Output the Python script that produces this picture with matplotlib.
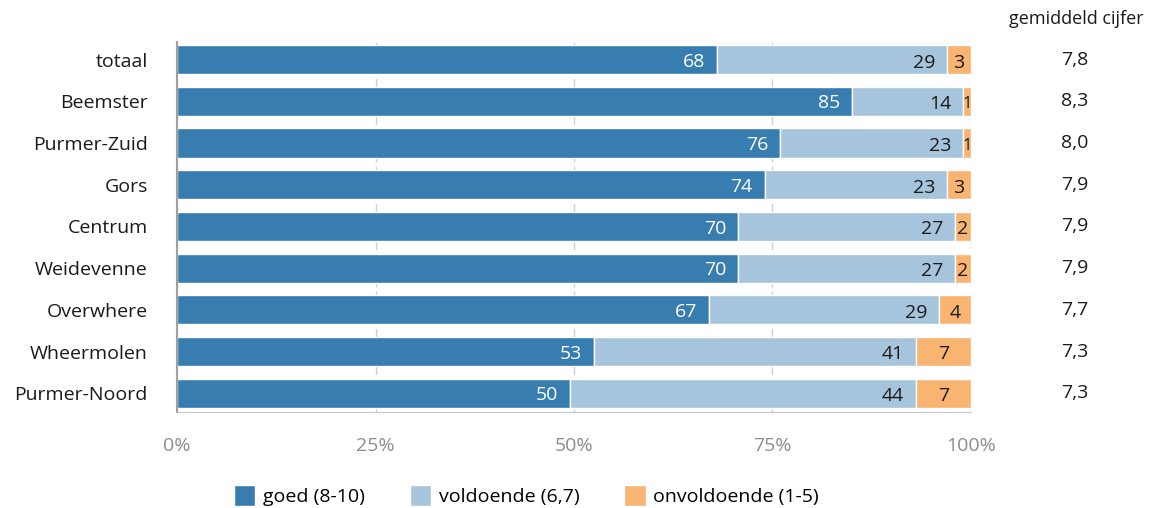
import matplotlib
matplotlib.use("Agg")
import matplotlib.pyplot as plt
import numpy as np

plt.rcParams['font.family'] = ['Open Sans', 'DejaVu Sans']

# data
wijken = ['totaal', 'Beemster', 'Purmer-Zuid', 'Gors', 'Centrum', 'Weidevenne',
          'Overwhere', 'Wheermolen', 'Purmer-Noord']
goed = [68, 85, 76, 74, 70, 70, 67, 53, 50]
voldoende = [29, 14, 23, 23, 27, 27, 29, 41, 44]
onvoldoende = [3, 1, 1, 3, 2, 2, 4, 7, 7]
cijfer = ['7,8', '8,3', '8,0', '7,9', '7,9', '7,9', '7,7', '7,3', '7,3']
series_names = ['goed (8-10)', 'voldoende (6,7)', 'onvoldoende (1-5)']
xticklabels = ['0%', '25%', '50%', '75%', '100%']

kleuren = ['#377db0', '#a6c4dc', '#f8b470']

g = np.array(goed, dtype=float)
v = np.array(voldoende, dtype=float)
o = np.array(onvoldoende, dtype=float)
tot = g + v + o
g, v, o = g / tot, v / tot, o / tot
y = np.arange(len(wijken))

fig = plt.figure(figsize=(11.7, 5.08), dpi=100)
ax = fig.add_axes([0.1513, 0.189, 0.6786, 0.728])

b1 = ax.barh(y, g, height=0.7, color=kleuren[0], edgecolor='white', linewidth=1, label=series_names[0])
b2 = ax.barh(y, v, left=g, height=0.7, color=kleuren[1], edgecolor='white', linewidth=1, label=series_names[1])
b3 = ax.barh(y, o, left=g + v, height=0.7, color=kleuren[2], edgecolor='white', linewidth=1, label=series_names[2])

fs = 14
for i in range(len(wijken)):
    ax.text(g[i] - 0.015, y[i] + 0.05, str(goed[i]), ha='right', va='center',
            color='white', fontsize=fs)
    ax.text(g[i] + v[i] - 0.015, y[i] + 0.07, str(voldoende[i]), ha='right', va='center',
            color='#1a1a1a', fontsize=fs)
    ax.text(g[i] + v[i] + o[i] / 2, y[i] + 0.07, str(onvoldoende[i]), ha='center', va='center',
            color='#1a1a1a', fontsize=fs if onvoldoende[i] > 1 else 12)
    ax.text(1.131, y[i], cijfer[i], ha='center', va='center', fontsize=fs,
            color='#1a1a1a', transform=ax.get_yaxis_transform())

fig.text(0.92, 0.963, 'gemiddeld cijfer', ha='center', va='center', fontsize=13, color='#1a1a1a')

ax.set_xlim(0, 1)
ax.set_ylim(8.45, -0.42)
ax.set_yticks(y)
ax.set_yticklabels(wijken, fontsize=fs, color='#1a1a1a')
ax.set_xticks([0, 0.25, 0.5, 0.75, 1.0])
ax.set_xticklabels(xticklabels, fontsize=fs, color='#8c8c8c')
ax.tick_params(axis='y', length=0, pad=21)
ax.tick_params(axis='x', length=0, pad=18)
ax.grid(axis='x', color='#d0d0d0', linestyle=(0, (6, 3)), linewidth=1)
ax.set_axisbelow(True)
for s in ['top', 'right']:
    ax.spines[s].set_visible(False)
ax.spines['left'].set_color('#a0a0a0')
ax.spines['bottom'].set_color('#c8c8c8')
ax.spines['left'].set_linewidth(1.5)

fig.legend(handles=[b1, b2, b3], loc='center', bbox_to_anchor=(0.45, 0.025), ncol=3,
           frameon=False, fontsize=fs, handlelength=1.1, handleheight=1.3,
           columnspacing=2.3, handletextpad=0.4)

fig.savefig('out.png', dpi=100)
